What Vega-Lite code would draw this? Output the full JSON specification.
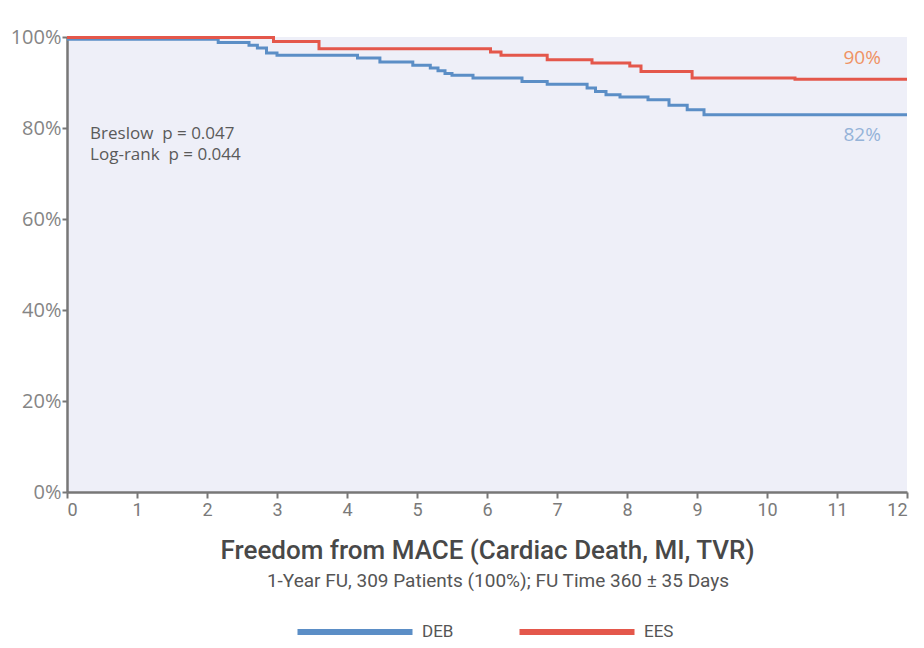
{
  "$schema": "https://vega.github.io/schema/vega-lite/v6.json",
  "width": 840,
  "height": 455,
  "autosize": {"type": "none"},
  "padding": {"left": 67, "top": 37, "right": 17, "bottom": 156},
  "background": "white",
  "config": {
    "view": {"fill": "#eeeff8", "stroke": null},
    "font": "Roboto"
  },
  "datasets": {
    "km": [
      {"month": 0, "surv": 99.5, "group": "DEB"},
      {"month": 2.16, "surv": 98.8, "group": "DEB"},
      {"month": 2.6, "surv": 98.2, "group": "DEB"},
      {"month": 2.72, "surv": 97.6, "group": "DEB"},
      {"month": 2.85, "surv": 96.5, "group": "DEB"},
      {"month": 3.0, "surv": 96.0, "group": "DEB"},
      {"month": 4.15, "surv": 95.4, "group": "DEB"},
      {"month": 4.47, "surv": 94.5, "group": "DEB"},
      {"month": 4.94, "surv": 93.8, "group": "DEB"},
      {"month": 5.19, "surv": 93.2, "group": "DEB"},
      {"month": 5.3, "surv": 92.6, "group": "DEB"},
      {"month": 5.4, "surv": 92.0, "group": "DEB"},
      {"month": 5.5, "surv": 91.6, "group": "DEB"},
      {"month": 5.8, "surv": 91.0, "group": "DEB"},
      {"month": 6.5, "surv": 90.2, "group": "DEB"},
      {"month": 6.86, "surv": 89.6, "group": "DEB"},
      {"month": 7.43, "surv": 88.8, "group": "DEB"},
      {"month": 7.55, "surv": 88.0, "group": "DEB"},
      {"month": 7.7, "surv": 87.3, "group": "DEB"},
      {"month": 7.9, "surv": 86.8, "group": "DEB"},
      {"month": 8.3, "surv": 86.2, "group": "DEB"},
      {"month": 8.6, "surv": 85.0, "group": "DEB"},
      {"month": 8.86, "surv": 84.0, "group": "DEB"},
      {"month": 9.1, "surv": 82.9, "group": "DEB"},
      {"month": 12, "surv": 82.9, "group": "DEB"},
      {"month": 0, "surv": 99.9, "group": "EES"},
      {"month": 2.95, "surv": 99.0, "group": "EES"},
      {"month": 3.6, "surv": 97.4, "group": "EES"},
      {"month": 6.05, "surv": 96.7, "group": "EES"},
      {"month": 6.2, "surv": 96.0, "group": "EES"},
      {"month": 6.86, "surv": 95.0, "group": "EES"},
      {"month": 7.5, "surv": 94.3, "group": "EES"},
      {"month": 8.04, "surv": 93.6, "group": "EES"},
      {"month": 8.2, "surv": 92.4, "group": "EES"},
      {"month": 8.93, "surv": 91.0, "group": "EES"},
      {"month": 10.4, "surv": 90.7, "group": "EES"},
      {"month": 12, "surv": 90.7, "group": "EES"}
    ],
    "notes": [
      {"month": 0.33, "surv": 80.5, "label": "Breslow\u00a0\u00a0p = 0.047\nLog-rank\u00a0\u00a0p = 0.044", "kind": "stat"},
      {"month": 11.36, "surv": 95.3, "label": "90%", "kind": "EES"},
      {"month": 11.36, "surv": 78.5, "label": "82%", "kind": "DEB"}
    ]
  },
  "layer": [
    {
      "data": {"name": "km"},
      "mark": {"type": "line", "interpolate": "step-after", "strokeWidth": 3},
      "encoding": {
        "x": {
          "field": "month", "type": "quantitative",
          "scale": {"domain": [0, 12], "nice": false},
          "axis": {
            "values": [0,1,2,3,4,5,6,7,8,9,10,11,12],
            "format": "d",
            "title": "Freedom from MACE (Cardiac Death, MI, TVR)",
            "titleFont": "Roboto",
            "titleFontSize": 26,
            "titleFontWeight": 500,
            "titleColor": "#484848",
            "titlePadding": 18,
            "labelFont": "Roboto",
            "labelFontSize": 18,
            "labelColor": "#7a7a7a",
            "labelPadding": 3,
            "domainColor": "#777777",
            "domainWidth": 2.5,
            "tickColor": "#777777",
            "tickWidth": 2,
            "tickSize": 6,
            "grid": false
          }
        },
        "y": {
          "field": "surv", "type": "quantitative",
          "scale": {"domain": [0, 100], "nice": false},
          "axis": {
            "values": [0, 20, 40, 60, 80, 100],
            "labelExpr": "datum.value + '%'",
            "title": null,
            "labelFont": "Open Sans",
            "labelFontSize": 20,
            "labelColor": "#858585",
            "labelPadding": 1,
            "domainColor": "#777777",
            "domainWidth": 2.5,
            "tickColor": "#777777",
            "tickWidth": 2,
            "tickSize": 5,
            "grid": false
          }
        },
        "color": {
          "field": "group", "type": "nominal",
          "scale": {"domain": ["DEB", "EES"], "range": ["#5b8ec6", "#e4574b"]},
          "legend": {
            "title": "1-Year FU, 309 Patients (100%); FU Time 360 ± 35 Days",
            "titleFont": "Roboto",
            "titleFontSize": 19,
            "titleFontWeight": "normal",
            "titleColor": "#555555",
            "titleAnchor": "middle",
            "titleOrient": "top",
            "titlePadding": 32,
            "titleLimit": 800,
            "orient": "none",
            "direction": "horizontal",
            "legendX": 200,
            "legendY": 535,
            "padding": 0,
            "symbolType": "M-6,0H14",
            "symbolSize": 132.25,
            "symbolStrokeWidth": 6,
            "labelFontSize": 17,
            "labelColor": "#555555",
            "labelFont": "Roboto",
            "labelOffset": 81,
            "columnPadding": 53
          }
        }
      }
    },
    {
      "data": {"name": "notes"},
      "transform": [{"filter": "datum.kind == 'stat'"}],
      "mark": {"type": "text", "align": "left", "baseline": "top", "lineBreak": "\n", "lineHeight": 21, "font": "Open Sans", "fontSize": 17, "color": "#5a5a5a"},
      "encoding": {
        "x": {"field": "month", "type": "quantitative"},
        "y": {"field": "surv", "type": "quantitative"},
        "text": {"field": "label"}
      }
    },
    {
      "data": {"name": "notes"},
      "transform": [{"filter": "datum.kind != 'stat'"}],
      "mark": {"type": "text", "align": "center", "baseline": "middle", "font": "Open Sans", "fontSize": 19},
      "encoding": {
        "x": {"field": "month", "type": "quantitative"},
        "y": {"field": "surv", "type": "quantitative"},
        "text": {"field": "label"},
        "color": {
          "field": "kind", "type": "nominal",
          "scale": {"domain": ["DEB", "EES"], "range": ["#95b3d8", "#ef9264"]},
          "legend": null
        }
      }
    }
  ],
  "resolve": {"scale": {"color": "independent"}}
}
